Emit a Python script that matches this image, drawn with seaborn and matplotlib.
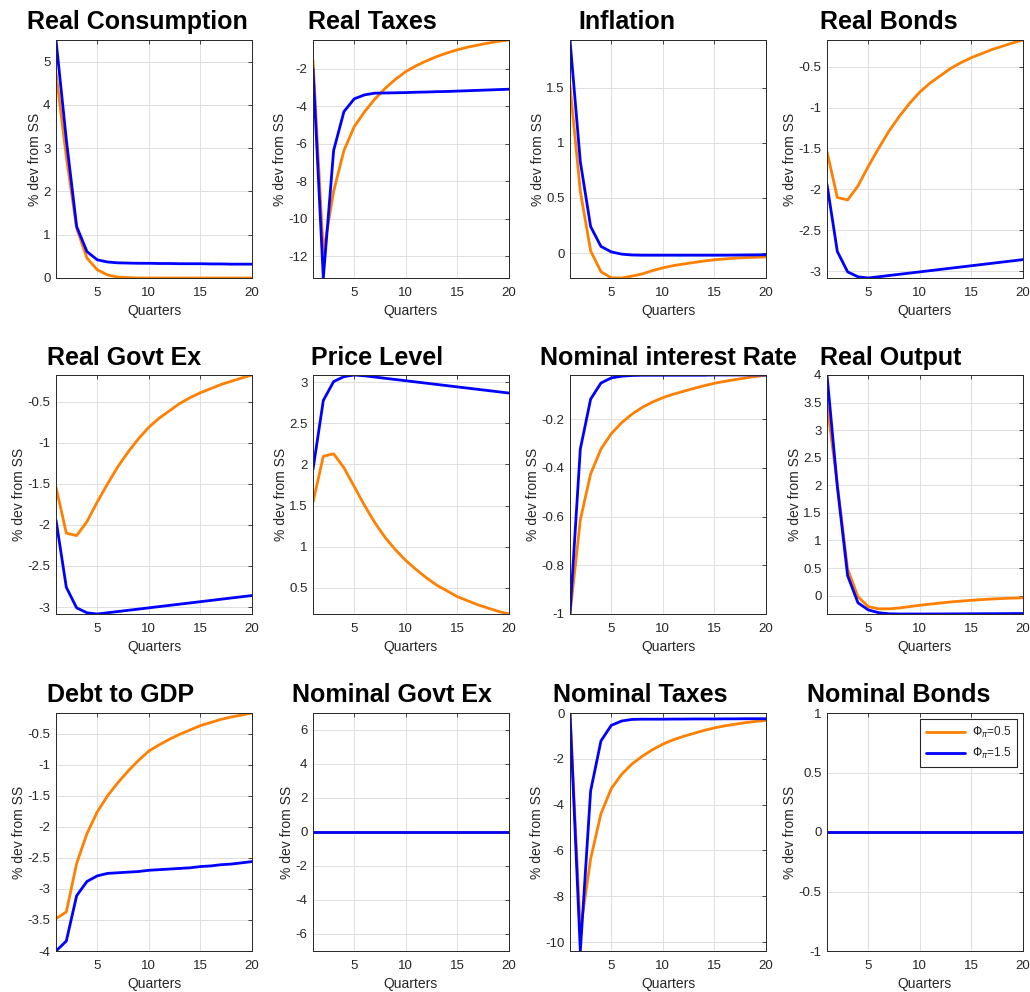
import numpy as np
import pandas as pd
import matplotlib
matplotlib.use("Agg")
import matplotlib.pyplot as plt
import seaborn as sns
from matplotlib.ticker import FuncFormatter, MultipleLocator

# ---------------- data ----------------
quarters = list(range(1, 21))
series_labels = [r"$\Phi_{\pi}$=0.5", r"$\Phi_{\pi}$=1.5"]

titles = ["Real Consumption", "Real Taxes", "Inflation", "Real Bonds",
          "Real Govt Ex", "Price Level", "Nominal interest Rate", "Real Output",
          "Debt to GDP", "Nominal Govt Ex", "Nominal Taxes", "Nominal Bonds"]

real_cons_lo = [4.74, 2.80, 1.15, 0.46, 0.19, 0.07, 0.02, 0.01, 0.0, 0.0,
                0.0, 0.0, 0.0, 0.0, 0.0, 0.0, 0.0, 0.0, 0.0, 0.0]
real_cons_hi = [5.50, 3.20, 1.19, 0.61, 0.42, 0.37, 0.35, 0.345, 0.34, 0.34,
                0.335, 0.335, 0.33, 0.33, 0.33, 0.325, 0.325, 0.32, 0.32, 0.32]

real_taxes_lo = [-1.57, -11.8, -8.54, -6.36, -5.09, -4.30, -3.62, -3.05, -2.57, -2.16,
                 -1.85, -1.59, -1.36, -1.17, -1.00, -0.86, -0.75, -0.64, -0.55, -0.48]
real_taxes_hi = [-2.00, -13.15, -6.36, -4.29, -3.61, -3.40, -3.31, -3.30, -3.29, -3.28,
                 -3.26, -3.25, -3.23, -3.22, -3.20, -3.18, -3.16, -3.14, -3.12, -3.10]

inflation_lo = [1.52, 0.56, 0.02, -0.17, -0.225, -0.227, -0.21, -0.19, -0.16, -0.135,
                -0.115, -0.100, -0.086, -0.073, -0.062, -0.054, -0.047, -0.042, -0.039, -0.036]
inflation_hi = [1.935, 0.83, 0.24, 0.06, 0.01, -0.01, -0.018, -0.02, -0.02, -0.02,
                -0.02, -0.02, -0.02, -0.02, -0.02, -0.02, -0.019, -0.018, -0.017, -0.016]

bonds_lo = [-1.54, -2.10, -2.13, -1.96, -1.72, -1.50, -1.29, -1.11, -0.95, -0.81,
            -0.70, -0.61, -0.52, -0.45, -0.39, -0.34, -0.29, -0.25, -0.21, -0.174]
bonds_hi = [-1.94, -2.76, -3.01, -3.07, -3.085, -3.07, -3.055, -3.04, -3.025, -3.01,
            -2.995, -2.98, -2.965, -2.95, -2.935, -2.92, -2.905, -2.89, -2.875, -2.86]

govt_ex_lo = [-1.54, -2.10, -2.13, -1.96, -1.72, -1.50, -1.29, -1.11, -0.95, -0.81,
              -0.70, -0.61, -0.52, -0.45, -0.39, -0.34, -0.29, -0.25, -0.21, -0.174]
govt_ex_hi = [-1.94, -2.76, -3.01, -3.07, -3.085, -3.07, -3.055, -3.04, -3.025, -3.01,
              -2.995, -2.98, -2.965, -2.95, -2.935, -2.92, -2.905, -2.89, -2.875, -2.86]

price_lo = [1.54, 2.10, 2.13, 1.96, 1.73, 1.50, 1.29, 1.11, 0.96, 0.83,
            0.72, 0.62, 0.53, 0.46, 0.39, 0.34, 0.29, 0.25, 0.21, 0.179]
price_hi = [1.94, 2.78, 3.01, 3.07, 3.09, 3.08, 3.065, 3.05, 3.035, 3.02,
            3.005, 2.99, 2.975, 2.96, 2.945, 2.93, 2.915, 2.90, 2.885, 2.87]

nom_rate_lo = [-1.0, -0.614, -0.425, -0.323, -0.26, -0.215, -0.180, -0.152, -0.130, -0.112,
               -0.098, -0.086, -0.074, -0.063, -0.053, -0.045, -0.038, -0.031, -0.025, -0.020]
nom_rate_hi = [-1.0, -0.323, -0.118, -0.052, -0.031, -0.024, -0.021, -0.020, -0.020, -0.020,
               -0.020, -0.020, -0.020, -0.020, -0.019, -0.019, -0.019, -0.019, -0.019, -0.019]

output_lo = [3.47, 2.02, 0.48, -0.02, -0.20, -0.24, -0.24, -0.225, -0.20, -0.175,
             -0.155, -0.135, -0.115, -0.10, -0.085, -0.073, -0.062, -0.053, -0.046, -0.04]
output_hi = [4.0, 1.98, 0.36, -0.13, -0.26, -0.31, -0.33, -0.334, -0.334, -0.334,
             -0.333, -0.333, -0.332, -0.331, -0.33, -0.329, -0.328, -0.327, -0.326, -0.325]

debt_lo = [-3.48, -3.37, -2.59, -2.11, -1.76, -1.50, -1.29, -1.10, -0.93, -0.78,
           -0.68, -0.59, -0.51, -0.44, -0.37, -0.32, -0.27, -0.23, -0.20, -0.167]
debt_hi = [-4.0, -3.84, -3.11, -2.88, -2.79, -2.75, -2.74, -2.73, -2.72, -2.70,
           -2.69, -2.68, -2.67, -2.66, -2.64, -2.63, -2.61, -2.60, -2.58, -2.56]

nom_govt_lo = [0.0] * 20
nom_govt_hi = [0.0] * 20

nom_taxes_lo = [0.0, -9.5, -6.36, -4.40, -3.30, -2.68, -2.23, -1.89, -1.60, -1.36,
                -1.17, -1.02, -0.89, -0.76, -0.65, -0.56, -0.49, -0.42, -0.37, -0.32]
nom_taxes_hi = [0.0, -10.39, -3.40, -1.22, -0.54, -0.35, -0.28, -0.27, -0.27, -0.27,
                -0.265, -0.265, -0.26, -0.26, -0.26, -0.255, -0.255, -0.25, -0.25, -0.25]

nom_bonds_lo = [0.0] * 20
nom_bonds_hi = [0.0] * 20

series_lo = [real_cons_lo, real_taxes_lo, inflation_lo, bonds_lo,
             govt_ex_lo, price_lo, nom_rate_lo, output_lo,
             debt_lo, nom_govt_lo, nom_taxes_lo, nom_bonds_lo]
series_hi = [real_cons_hi, real_taxes_hi, inflation_hi, bonds_hi,
             govt_ex_hi, price_hi, nom_rate_hi, output_hi,
             debt_hi, nom_govt_hi, nom_taxes_hi, nom_bonds_hi]

# ---------------- style ----------------
ytick_steps = [1, 2, 0.5, 0.5, 0.5, 0.5, 0.2, 0.5, 0.5, 2, 2, 0.5]
fixed_ylims = {9: (-7, 7), 11: (-1, 1)}
colors = ["#ff8000", "#0000ff"]
dark = "#262626"

sns.set_theme(style="white")
plt.rcParams["font.family"] = ["Liberation Sans", "DejaVu Sans"]
plt.rcParams["mathtext.fontset"] = "dejavusans"

W, H = 1030, 992
fig = plt.figure(figsize=(W / 100, H / 100), dpi=100)

col_left = [56, 313, 570, 827]
ax_w = 196
row_top = [40, 375, 713]
row_bot = [278, 614, 951]
title_left = [[27, 308, 578, 820], [47, 311, 540, 820], [47, 292, 553, 807]]
title_base = [29, 365, 702]

fmt = FuncFormatter(lambda v, p: ("%g" % round(v, 8)) if abs(v) > 1e-12 else "0")

for i in range(12):
    r, c = divmod(i, 4)
    ax = fig.add_axes([col_left[c] / W, 1 - row_bot[r] / H, ax_w / W,
                       (row_bot[r] - row_top[r]) / H])
    df = pd.DataFrame({
        "Quarter": quarters + quarters,
        "value": list(series_lo[i]) + list(series_hi[i]),
        "rule": [series_labels[0]] * 20 + [series_labels[1]] * 20,
    })
    sns.lineplot(data=df, x="Quarter", y="value", hue="rule", palette=colors,
                 linewidth=2.0, ax=ax, legend=(i == 11))
    ax.set_xlim(1, 20)
    if i in fixed_ylims:
        ax.set_ylim(*fixed_ylims[i])
    else:
        allv = list(series_lo[i]) + list(series_hi[i])
        ax.set_ylim(min(allv), max(allv))
    ax.xaxis.set_major_locator(MultipleLocator(5))
    ax.yaxis.set_major_locator(MultipleLocator(ytick_steps[i]))
    ax.yaxis.set_major_formatter(fmt)
    ax.grid(True, color="#dedede", linewidth=0.7)
    ax.set_axisbelow(True)
    for s in ax.spines.values():
        s.set_color(dark)
        s.set_linewidth(0.7)
    ax.tick_params(direction="in", top=True, right=True, length=3, width=0.6,
                   colors=dark, labelsize=9.5, pad=4)
    ax.tick_params(axis="x", pad=6.5)
    ax.set_xlabel("Quarters", fontsize=10, color=dark, labelpad=3.5)
    ax.set_ylabel("% dev from SS", fontsize=10, color=dark, labelpad=1)
    fig.text(title_left[r][c] / W, 1 - title_base[r] / H, titles[i],
             fontsize=18, fontweight="bold", ha="left", va="baseline", color="black")
    if i == 11:
        handles, labels = ax.get_legend_handles_labels()
        leg = ax.legend(handles, labels, loc="upper right", fontsize=8.5, frameon=True,
                        fancybox=False, framealpha=1, edgecolor=dark, handlelength=3.3,
                        borderpad=0.45, labelspacing=0.55, borderaxespad=0.55,
                        handletextpad=0.6)
        leg.get_frame().set_linewidth(0.8)

fig.savefig("out.png", dpi=100)
